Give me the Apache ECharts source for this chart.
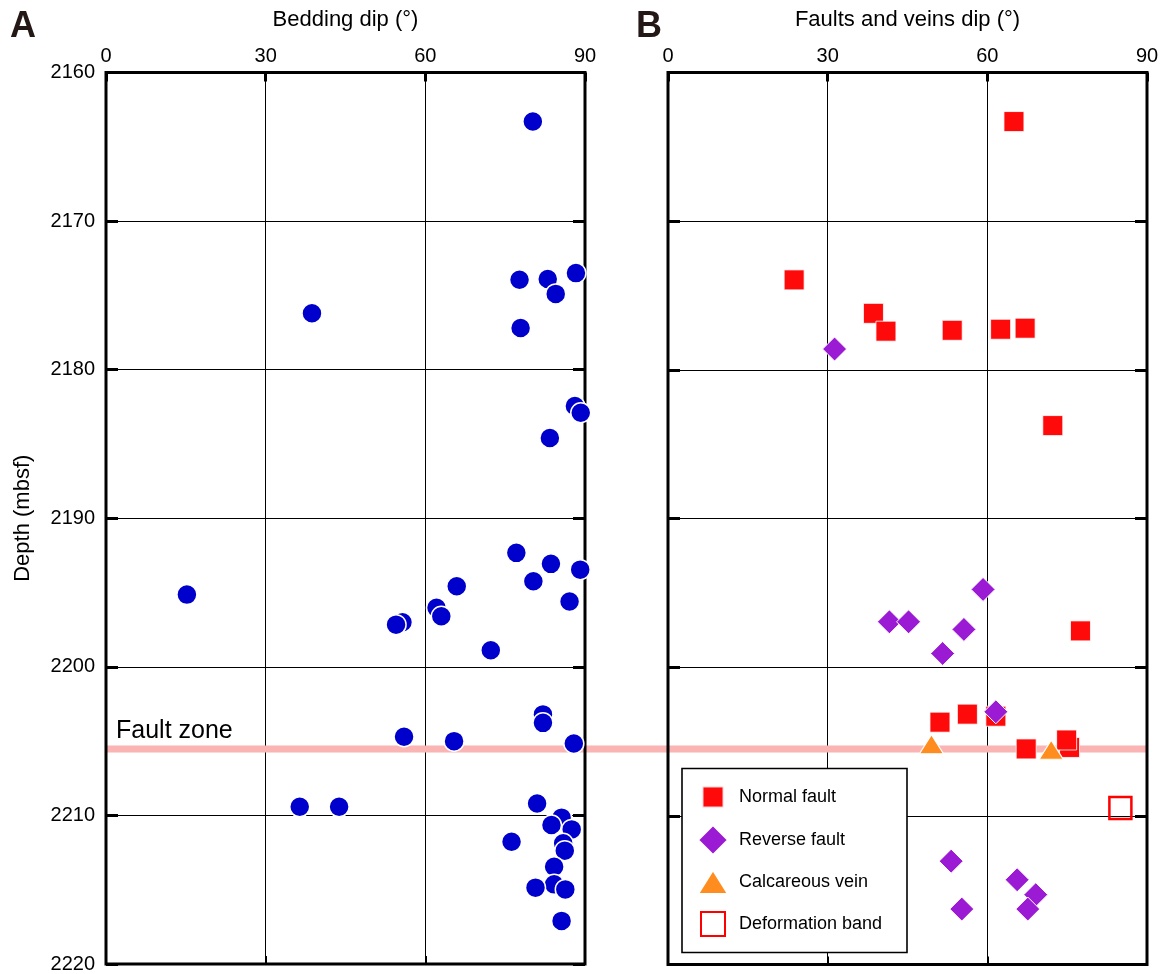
<!DOCTYPE html>
<html>
<head>
<meta charset="utf-8">
<script src="https://cdn.jsdelivr.net/npm/echarts@6/dist/echarts.min.js"></script>
<style>
html,body{margin:0;padding:0;background:#fff;}
#chart{width:1167px;height:974px;}
</style>
</head>
<body>
<div id="chart"></div>
<script>
// ---- Data: [dip (deg), depth (mbsf)] ----
const beddingPoints = [
  [80.2,2163.3],[88.3,2173.5],[77.7,2173.95],[83.0,2173.9],[84.5,2174.9],
  [38.7,2176.2],[77.9,2177.2],[88.1,2182.45],[89.2,2182.9],[83.4,2184.6],
  [77.1,2192.33],[83.6,2193.07],[89.1,2193.46],[80.3,2194.24],[87.1,2195.6],
  [65.9,2194.58],[15.2,2195.14],[62.1,2196.03],[63.0,2196.6],[55.7,2197.0],
  [54.5,2197.16],[72.3,2198.88],[82.1,2203.2],[82.1,2203.77],[56.0,2204.7],
  [65.4,2205.0],[87.9,2205.16],[36.4,2209.42],[43.8,2209.42],[81.0,2209.2],
  [85.6,2210.15],[83.7,2210.65],[87.5,2210.94],[76.2,2211.77],[85.9,2211.88],
  [86.2,2212.37],[84.2,2213.45],[84.2,2214.64],[80.7,2214.86],[86.3,2214.98],
  [85.6,2217.1]
];
const normalFault = [
  [65.0,2163.3],[23.7,2173.95],[38.6,2176.2],[40.95,2177.4],[53.4,2177.34],
  [62.5,2177.27],[67.1,2177.2],[72.3,2183.75],[77.5,2197.56],[51.1,2203.7],
  [56.25,2203.16],[61.6,2203.3],[67.3,2205.5],[75.45,2205.4],[74.9,2204.9]
];
const reverseFault = [
  [31.3,2178.6],[59.2,2194.77],[41.6,2196.95],[45.2,2196.95],[55.6,2197.46],
  [51.6,2199.08],[61.6,2203.0],[53.2,2213.05],[55.2,2216.27],[65.6,2214.3],
  [69.1,2215.3],[67.6,2216.27]
];
const calcareousVein = [[49.5,2205.18],[72.0,2205.55]];
const deformationBand = [[85.0,2209.48]];
const faultZoneDepth = 2205.5;
const dipTicks = [0, 30, 60, 90];
const depthRange = [2160, 2220];
const seriesNames = ['Normal fault','Reverse fault','Calcareous vein','Deformation band'];

const FONT = "'Liberation Sans', Arial, Helvetica, sans-serif";
const chart = echarts.init(document.getElementById('chart'), null, {renderer:'canvas'});

const grids = [
  {left:106, top:72.5, width:479, height:892, show:true, borderColor:'#000', borderWidth:3, backgroundColor:'transparent', z:2},
  {left:668, top:72.5, width:479, height:892, show:true, borderColor:'#000', borderWidth:3, backgroundColor:'transparent', z:2},
  {left:107, top:72.5, width:1040, height:892, show:false}
];

function topX(gi, name){
  return {
    gridIndex:gi, type:'value', position:'top', min:dipTicks[0], max:dipTicks[dipTicks.length-1], interval:30,
    name:name, nameLocation:'middle', nameGap:42,
    nameTextStyle:{fontSize:22, color:'#000', fontFamily:FONT},
    axisLine:{show:false, onZero:false},
    axisTick:{show:true, inside:true, length:9, lineStyle:{color:'#000', width:3}},
    axisLabel:{show:true, margin:6, fontSize:20, color:'#000', fontFamily:FONT},
    splitLine:{show:true, lineStyle:{color:'#000', width:1}}
  };
}
function bottomX(gi){
  return {
    gridIndex:gi, type:'value', position:'bottom', min:0, max:90, interval:30,
    axisLine:{show:false, onZero:false},
    axisTick:{show:true, inside:true, length:8, lineStyle:{color:'#000', width:2}},
    axisLabel:{show:false}, splitLine:{show:false}
  };
}
function sideY(gi, pos, labels, split){
  const ax = {
    gridIndex:gi, type:'value', position:pos, inverse:true, min:depthRange[0], max:depthRange[1], interval:10,
    axisLine:{show:false, onZero:false},
    axisTick:{show:true, inside:true, length:12, lineStyle:{color:'#000', width:3}},
    axisLabel:{show:labels, margin:11, fontSize:20, color:'#000', fontFamily:FONT, formatter:function(v){return String(v);}},
    splitLine:{show:split, lineStyle:{color:'#000', width:1}}
  };
  if (labels) {
    ax.name = 'Depth (mbsf)';
    ax.nameLocation = 'middle';
    ax.nameGap = 72;
    ax.nameTextStyle = {fontSize:22, color:'#000', fontFamily:FONT};
  }
  return ax;
}

const xAxes = [
  topX(0, 'Bedding dip (°)'), bottomX(0),
  topX(1, 'Faults and veins dip (°)'), bottomX(1),
  {gridIndex:2, type:'value', min:0, max:1, show:false}
];
const yAxes = [
  sideY(0,'left',true,true), sideY(0,'right',false,false),
  sideY(1,'left',false,true), sideY(1,'right',false,false),
  {gridIndex:2, type:'value', inverse:true, min:depthRange[0], max:depthRange[1], show:false}
];

// one legend per entry so each icon can have its own size
const legendSpecs = [
  {w:21, h:21, left:701.5, cy:796, pad:10.5},
  {w:30, h:30, left:697,   cy:839, pad:6},
  {w:30, h:24, left:697,   cy:881, pad:6},
  {w:24, h:24, left:700,   cy:923, pad:9}
];
const legends = seriesNames.map(function(n, i){
  const s = legendSpecs[i];
  return {
    data:[n], orient:'vertical', left:s.left, top:s.cy - s.h/2,
    itemWidth:s.w, itemHeight:s.h, padding:0,
    textStyle:{fontSize:18, color:'#000', fontFamily:FONT, padding:[0,0,0,s.pad]},
    selectedMode:false, z:7
  };
});

const option = {
  animation:false,
  backgroundColor:'#fff',
  textStyle:{fontFamily:FONT},
  grid:grids,
  xAxis:xAxes,
  yAxis:yAxes,
  legend:legends,
  graphic:[
    {type:'rect', z:6, shape:{x:682, y:768.5, width:225, height:184}, style:{fill:'#fff', stroke:'#000', lineWidth:1.6}},
    {type:'text', x:10, y:27, z:10, style:{text:'A', fontSize:36, fontWeight:'bold', fill:'#231815', fontFamily:FONT, verticalAlign:'middle'}},
    {type:'text', x:636, y:27, z:10, style:{text:'B', fontSize:36, fontWeight:'bold', fill:'#231815', fontFamily:FONT, verticalAlign:'middle'}},
    {type:'text', x:116, y:731, z:10, style:{text:'Fault zone', fontSize:25, fill:'#000', fontFamily:FONT, verticalAlign:'middle'}}
  ],
  series:[
    {type:'line', name:'faultzone', xAxisIndex:4, yAxisIndex:4, data:[[0,faultZoneDepth],[1,faultZoneDepth]],
      showSymbol:false, symbol:'none', silent:true, z:1, lineStyle:{color:'#fab4b4', width:7}},
    {type:'scatter', name:'Bedding', xAxisIndex:0, yAxisIndex:0, data:beddingPoints, z:3,
      symbol:'circle', symbolSize:20, itemStyle:{color:'#0000cc', borderColor:'#fff', borderWidth:1.5, opacity:1}},
    {type:'scatter', name:seriesNames[0], xAxisIndex:2, yAxisIndex:2, data:normalFault, z:3,
      symbol:'rect', symbolSize:20, itemStyle:{color:'#ff0a0a', borderColor:'rgba(255,255,255,0.8)', borderWidth:1, opacity:1}},
    {type:'scatter', name:seriesNames[1], xAxisIndex:2, yAxisIndex:2, data:reverseFault, z:3,
      symbol:'diamond', symbolSize:24, itemStyle:{color:'#9b1bd4', borderColor:'#fff', borderWidth:1, opacity:1}},
    {type:'scatter', name:seriesNames[2], xAxisIndex:2, yAxisIndex:2, data:calcareousVein, z:3,
      symbol:'triangle', symbolSize:[24,19], itemStyle:{color:'#ff8c1e', borderColor:'#fff', borderWidth:1, opacity:1}},
    {type:'scatter', name:seriesNames[3], xAxisIndex:2, yAxisIndex:2, data:deformationBand, z:3,
      symbol:'rect', symbolSize:22, itemStyle:{color:'rgba(255,255,255,0)', borderColor:'#ff0000', borderWidth:2.5, opacity:1}}
  ]
};
chart.setOption(option);
</script>
</body>
</html>
